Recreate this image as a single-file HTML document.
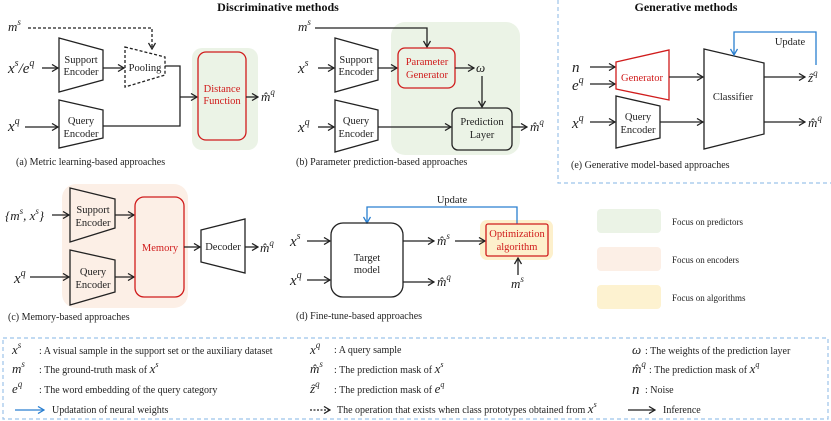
<!DOCTYPE html>
<html><head><meta charset="utf-8"><style>
html,body{margin:0;padding:0;background:#fff;}
svg{display:block;font-family:"Liberation Serif",serif;}
.t{font-size:10.5px;fill:#222;}
.r{font-size:10.5px;fill:#d01c1c;}
.c{font-size:10px;fill:#222;}
.m{font-size:15px;font-style:italic;fill:#222;}
.ms{font-size:13px;font-style:italic;fill:#222;}
.l{font-size:9px;fill:#222;}
.b{font-size:10px;fill:#222;}
.h{font-size:12px;font-weight:bold;fill:#111;}
</style></head><body>
<svg width="831" height="421" viewBox="0 0 831 421" xmlns="http://www.w3.org/2000/svg">
<defs>
<marker id="a" markerWidth="8" markerHeight="8" refX="7" refY="4" orient="auto" markerUnits="userSpaceOnUse"><path d="M1,0.5 L7,4 L1,7.5" fill="none" stroke="#222" stroke-width="1.3"/></marker>
<marker id="b" markerWidth="8" markerHeight="8" refX="7" refY="4" orient="auto" markerUnits="userSpaceOnUse"><path d="M1,0.5 L7,4 L1,7.5" fill="none" stroke="#2a7fd0" stroke-width="1.3"/></marker>
</defs>
<text class="h" x="278" y="11" text-anchor="middle">Discriminative methods</text>
<text class="h" x="686" y="11" text-anchor="middle">Generative methods</text>
<path d="M558,0 V183 H831" fill="none" stroke="#9cc3ea" stroke-width="1.2" stroke-dasharray="4,3"/>

<!-- (a) -->
<rect x="192" y="48" width="66" height="102" rx="10" fill="#ebf3e6"/>
<g fill="none" stroke="#222" stroke-width="1.3">
<path d="M28,28 H152 V49" stroke-dasharray="3,2" marker-end="url(#a)"/>
<polygon points="59,38 103,50 103,80 59,92" fill="#fff"/>
<polygon points="125,47 165,57 165,75 125,87" fill="#fff" stroke-dasharray="3,2"/>
<polygon points="59,100 103,110 103,138 59,148" fill="#fff"/>
<line x1="42" y1="68" x2="58" y2="68" marker-end="url(#a)"/>
<line x1="103" y1="68" x2="124" y2="68" marker-end="url(#a)"/>
<path d="M165,66 H180 V126 H103"/>
<line x1="180" y1="97" x2="197" y2="97" marker-end="url(#a)"/>
<line x1="25" y1="127" x2="58" y2="127" marker-end="url(#a)"/>
<rect x="198" y="52" width="48" height="88" rx="8" stroke="#d01c1c"/>
<line x1="246" y1="97" x2="258" y2="97" marker-end="url(#a)"/>
</g>
<text class="ms" x="8" y="31">m<tspan font-size="9" dy="-6">s</tspan></text>
<text class="m" x="8" y="73">x<tspan font-size="10" dy="-7">s</tspan><tspan dy="7">/e</tspan><tspan font-size="10" dy="-7">q</tspan></text>
<text class="m" x="8" y="131">x<tspan font-size="10" dy="-7">q</tspan></text>
<text class="t" x="81" y="63" text-anchor="middle">Support</text>
<text class="t" x="81" y="75" text-anchor="middle">Encoder</text>
<text class="t" x="145" y="71" text-anchor="middle">Pooling</text>
<text class="t" x="81" y="124" text-anchor="middle">Query</text>
<text class="t" x="81" y="137" text-anchor="middle">Encoder</text>
<text class="r" x="222" y="92" text-anchor="middle">Distance</text>
<text class="r" x="222" y="104" text-anchor="middle">Function</text>
<text class="ms" x="261" y="101">m̂<tspan font-size="9" dy="-6">q</tspan></text>
<text class="c" x="16" y="165">(a) Metric learning-based approaches</text>

<!-- (b) -->
<rect x="391" y="22" width="129" height="133" rx="14" fill="#ebf3e6"/>
<g fill="none" stroke="#222" stroke-width="1.3">
<path d="M315,28 H427 V47" marker-end="url(#a)"/>
<polygon points="335,38 378,50 378,80 335,92" fill="#fff"/>
<polygon points="335,100 378,110 378,140 335,152" fill="#fff"/>
<line x1="318" y1="68" x2="334" y2="68" marker-end="url(#a)"/>
<line x1="378" y1="68" x2="397" y2="68" marker-end="url(#a)"/>
<rect x="398" y="48" width="57" height="40" rx="7" stroke="#d01c1c"/>
<line x1="455" y1="68" x2="474" y2="68" marker-end="url(#a)"/>
<line x1="482" y1="76" x2="482" y2="107" marker-end="url(#a)"/>
<rect x="452" y="108" width="60" height="42" rx="6"/>
<line x1="318" y1="127" x2="334" y2="127" marker-end="url(#a)"/>
<line x1="378" y1="127" x2="451" y2="127" marker-end="url(#a)"/>
<line x1="512" y1="127" x2="527" y2="127" marker-end="url(#a)"/>
</g>
<text class="ms" x="298" y="31">m<tspan font-size="9" dy="-6">s</tspan></text>
<text class="m" x="298" y="73">x<tspan font-size="10" dy="-7">s</tspan></text>
<text class="m" x="298" y="132">x<tspan font-size="10" dy="-7">q</tspan></text>
<text class="t" x="356" y="63" text-anchor="middle">Support</text>
<text class="t" x="356" y="75" text-anchor="middle">Encoder</text>
<text class="t" x="356" y="124" text-anchor="middle">Query</text>
<text class="t" x="356" y="137" text-anchor="middle">Encoder</text>
<text class="r" x="427" y="65" text-anchor="middle">Parameter</text>
<text class="r" x="427" y="78" text-anchor="middle">Generator</text>
<text class="ms" x="476" y="72">ω</text>
<text class="t" x="482" y="125" text-anchor="middle">Prediction</text>
<text class="t" x="482" y="138" text-anchor="middle">Layer</text>
<text class="ms" x="530" y="131">m̂<tspan font-size="9" dy="-6">q</tspan></text>
<text class="c" x="296" y="165">(b) Parameter prediction-based approaches</text>

<!-- (e) -->
<g fill="none" stroke="#222" stroke-width="1.3">
<line x1="590" y1="67" x2="615" y2="67" marker-end="url(#a)"/>
<line x1="590" y1="84" x2="615" y2="84" marker-end="url(#a)"/>
<polygon points="616,62 669,50 669,100 616,89" stroke="#d01c1c" fill="#fff"/>
<line x1="669" y1="77" x2="703" y2="77" marker-end="url(#a)"/>
<polygon points="616,96 660,106 660,138 616,148" fill="#fff"/>
<line x1="590" y1="122" x2="615" y2="122" marker-end="url(#a)"/>
<line x1="660" y1="122" x2="703" y2="122" marker-end="url(#a)"/>
<polygon points="704,49 764,63 764,134 704,149" fill="#fff"/>
<line x1="764" y1="77" x2="805" y2="77" marker-end="url(#a)"/>
<line x1="764" y1="122" x2="805" y2="122" marker-end="url(#a)"/>
<path d="M816,65 V32 H734 V55" stroke="#2a7fd0" marker-end="url(#b)"/>
</g>
<text class="m" x="572" y="72">n</text>
<text class="m" x="572" y="90">e<tspan font-size="10" dy="-7">q</tspan></text>
<text class="m" x="572" y="128">x<tspan font-size="10" dy="-7">q</tspan></text>
<text class="r" x="642" y="81" text-anchor="middle">Generator</text>
<text class="t" x="638" y="120" text-anchor="middle">Query</text>
<text class="t" x="638" y="133" text-anchor="middle">Encoder</text>
<text class="t" x="733" y="100" text-anchor="middle">Classifier</text>
<text class="t" x="790" y="45" text-anchor="middle">Update</text>
<text class="ms" x="808" y="82">ẑ<tspan font-size="9" dy="-6">q</tspan></text>
<text class="ms" x="808" y="127">m̂<tspan font-size="9" dy="-6">q</tspan></text>
<text class="c" x="571" y="168">(e) Generative model-based approaches</text>

<!-- (c) -->
<rect x="62" y="184" width="126" height="124" rx="14" fill="#fcefe6"/>
<g fill="none" stroke="#222" stroke-width="1.3">
<polygon points="70,188 115,199 115,228 70,242" fill="#fcefe6"/>
<polygon points="70,250 115,260 115,292 70,305" fill="#fcefe6"/>
<line x1="52" y1="215" x2="69" y2="215" marker-end="url(#a)"/>
<line x1="30" y1="277" x2="69" y2="277" marker-end="url(#a)"/>
<line x1="115" y1="215" x2="134" y2="215" marker-end="url(#a)"/>
<line x1="115" y1="277" x2="134" y2="277" marker-end="url(#a)"/>
<rect x="135" y="197" width="49" height="100" rx="9" stroke="#d01c1c"/>
<line x1="184" y1="247" x2="200" y2="247" marker-end="url(#a)"/>
<polygon points="201,230 245,219 245,273 201,262" fill="#fff"/>
<line x1="245" y1="247" x2="258" y2="247" marker-end="url(#a)"/>
</g>
<text class="ms" x="5" y="220">{m<tspan font-size="9" dy="-6">s</tspan><tspan dy="6">, x</tspan><tspan font-size="9" dy="-6">s</tspan><tspan dy="6">}</tspan></text>
<text class="m" x="14" y="283">x<tspan font-size="10" dy="-7">q</tspan></text>
<text class="t" x="93" y="213" text-anchor="middle">Support</text>
<text class="t" x="93" y="226" text-anchor="middle">Encoder</text>
<text class="t" x="93" y="275" text-anchor="middle">Query</text>
<text class="t" x="93" y="288" text-anchor="middle">Encoder</text>
<text class="r" x="160" y="251" text-anchor="middle">Memory</text>
<text class="t" x="223" y="250" text-anchor="middle">Decoder</text>
<text class="ms" x="260" y="252">m̂<tspan font-size="9" dy="-6">q</tspan></text>
<text class="c" x="8" y="320">(c) Memory-based approaches</text>

<!-- (d) -->
<rect x="480" y="220" width="73" height="40" rx="7" fill="#fdf0cc"/>
<g fill="none" stroke="#222" stroke-width="1.3">
<path d="M517,224 V207 H367 V223" stroke="#2a7fd0" marker-end="url(#b)"/>
<rect x="331" y="223" width="72" height="74" rx="12"/>
<line x1="307" y1="241" x2="330" y2="241" marker-end="url(#a)"/>
<line x1="307" y1="280" x2="330" y2="280" marker-end="url(#a)"/>
<line x1="403" y1="241" x2="434" y2="241" marker-end="url(#a)"/>
<line x1="403" y1="282" x2="434" y2="282" marker-end="url(#a)"/>
<line x1="455" y1="241" x2="485" y2="241" marker-end="url(#a)"/>
<rect x="486" y="224" width="62" height="32" rx="2" stroke="#d01c1c"/>
<line x1="518" y1="275" x2="518" y2="258" marker-end="url(#a)"/>
</g>
<text class="t" x="452" y="203" text-anchor="middle">Update</text>
<text class="m" x="290" y="246">x<tspan font-size="10" dy="-7">s</tspan></text>
<text class="m" x="290" y="285">x<tspan font-size="10" dy="-7">q</tspan></text>
<text class="t" x="367" y="261" text-anchor="middle">Target</text>
<text class="t" x="367" y="273" text-anchor="middle">model</text>
<text class="ms" x="437" y="245">m̂<tspan font-size="9" dy="-6">s</tspan></text>
<text class="ms" x="437" y="286">m̂<tspan font-size="9" dy="-6">q</tspan></text>
<text class="r" x="517" y="237" text-anchor="middle">Optimization</text>
<text class="r" x="517" y="250" text-anchor="middle">algorithm</text>
<text class="ms" x="511" y="288">m<tspan font-size="9" dy="-6">s</tspan></text>
<text class="c" x="296" y="319">(d) Fine-tune-based approaches</text>

<!-- legend -->
<rect x="597" y="209" width="64" height="24" rx="4" fill="#ebf3e6"/>
<rect x="597" y="247" width="64" height="24" rx="4" fill="#fcefe6"/>
<rect x="597" y="285" width="64" height="24" rx="4" fill="#fdf2d0"/>
<text class="l" x="672" y="225">Focus on predictors</text>
<text class="l" x="672" y="263">Focus on encoders</text>
<text class="l" x="672" y="301">Focus on algorithms</text>

<!-- bottom box -->
<rect x="3" y="338" width="825" height="81" fill="none" stroke="#9cc3ea" stroke-width="1.2" stroke-dasharray="4,3"/>
<text class="ms" x="12" y="354">x<tspan font-size="9" dy="-6">s</tspan></text>
<text class="b" x="39" y="354">: A visual sample in the support set or the auxiliary dataset</text>
<text class="ms" x="12" y="373">m<tspan font-size="9" dy="-6">s</tspan></text>
<text class="b" x="39" y="373">: The ground-truth mask of <tspan font-size="13" font-style="italic">x</tspan><tspan font-size="8" font-style="italic" dy="-6">s</tspan></text>
<text class="ms" x="12" y="393">e<tspan font-size="9" dy="-6">q</tspan></text>
<text class="b" x="39" y="393">: The word embedding of the query category</text>
<line x1="15" y1="410" x2="44" y2="410" stroke="#2a7fd0" stroke-width="1.3" marker-end="url(#b)"/>
<text class="b" x="52" y="413">Updatation of neural weights</text>

<text class="ms" x="310" y="354">x<tspan font-size="9" dy="-6">q</tspan></text>
<text class="b" x="334" y="353">: A query sample</text>
<text class="ms" x="310" y="373">m̂<tspan font-size="9" dy="-6">s</tspan></text>
<text class="b" x="334" y="373">: The prediction mask of <tspan font-size="13" font-style="italic">x</tspan><tspan font-size="8" font-style="italic" dy="-6">s</tspan></text>
<text class="ms" x="310" y="393">ẑ<tspan font-size="9" dy="-6">q</tspan></text>
<text class="b" x="334" y="393">: The prediction mask of <tspan font-size="13" font-style="italic">e</tspan><tspan font-size="8" font-style="italic" dy="-6">q</tspan></text>
<line x1="310" y1="410" x2="330" y2="410" stroke="#222" stroke-width="1.3" stroke-dasharray="2,1.5" marker-end="url(#a)"/>
<text class="b" x="337" y="413">The operation that exists when class prototypes obtained from <tspan font-size="13" font-style="italic">x</tspan><tspan font-size="8" font-style="italic" dy="-6">s</tspan></text>

<text class="ms" x="632" y="354">ω</text>
<text class="b" x="645" y="354">: The weights of the prediction layer</text>
<text class="ms" x="632" y="373">m̂<tspan font-size="9" dy="-6">q</tspan></text>
<text class="b" x="649" y="373">: The prediction mask of <tspan font-size="13" font-style="italic">x</tspan><tspan font-size="8" font-style="italic" dy="-6">q</tspan></text>
<text class="m" x="632" y="394">n</text>
<text class="b" x="645" y="393" font-size="11">: Noise</text>
<line x1="628" y1="410" x2="655" y2="410" stroke="#222" stroke-width="1.3" marker-end="url(#a)"/>
<text class="b" x="663" y="413">Inference</text>
</svg>
</body></html>
